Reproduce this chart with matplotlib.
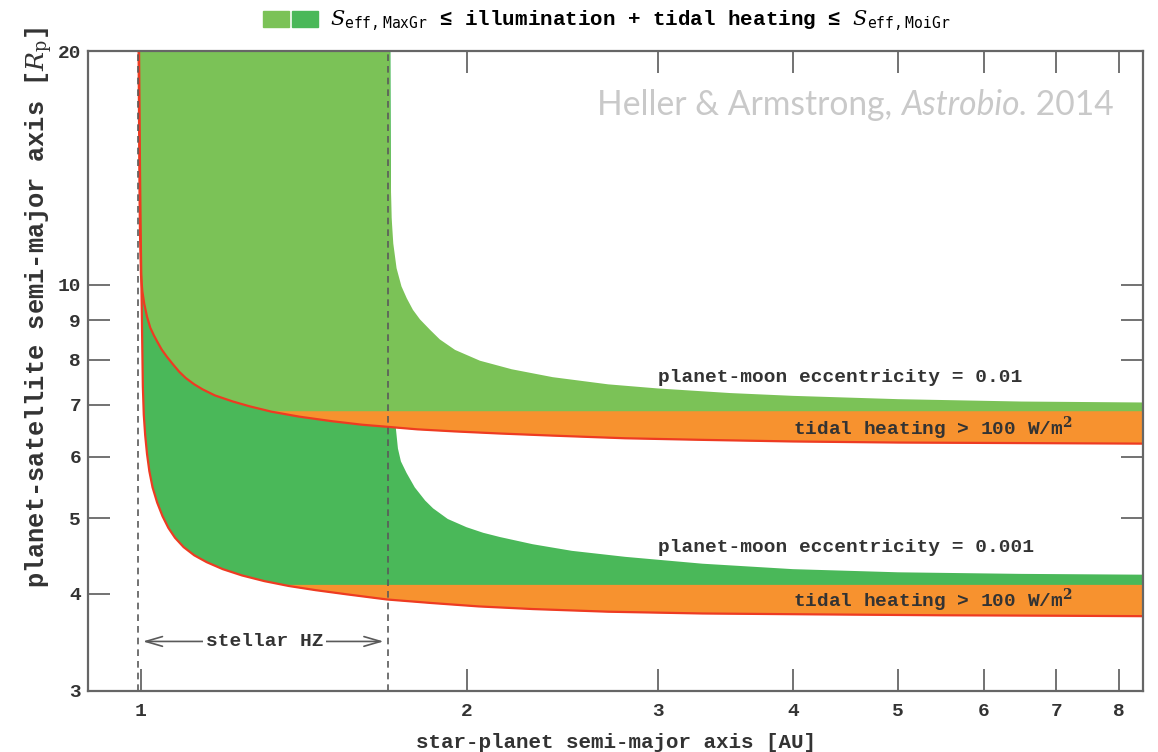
import matplotlib
matplotlib.use("Agg")
import matplotlib.pyplot as plt
from matplotlib.patches import Patch
from matplotlib.legend_handler import HandlerTuple
import numpy as np

# star-planet semi-major axis [AU] / planet-satellite semi-major axis [R_p]
# e = 0.01: inner (moist greenhouse) limit, red line
a_moi_e01 = [0.995, 0.996, 0.997, 0.998, 1.000, 1.003, 1.007, 1.013, 1.020, 1.028,
             1.035, 1.045, 1.057, 1.070, 1.085, 1.100, 1.120, 1.140, 1.170, 1.216,
             1.260, 1.320, 1.400, 1.500, 1.600, 1.687, 1.800, 1.950, 2.145, 2.400,
             2.800, 3.300, 4.000, 5.000, 6.500, 8.420]
r_moi_e01 = [20.0, 16.0, 13.0, 11.6, 10.3, 9.80, 9.45, 9.09, 8.80, 8.60,
             8.45, 8.25, 8.07, 7.90, 7.72, 7.58, 7.44, 7.33, 7.20, 7.07,
             6.97, 6.86, 6.76, 6.67, 6.60, 6.56, 6.51, 6.47, 6.43, 6.39,
             6.34, 6.31, 6.28, 6.26, 6.25, 6.24]
# e = 0.01: outer (maximum greenhouse) limit
a_max_e01 = [1.697, 1.699, 1.701, 1.704, 1.710, 1.722, 1.740, 1.760, 1.783, 1.810,
             1.850, 1.888, 1.950, 2.056, 2.200, 2.400, 2.700, 3.000, 3.500, 4.000,
             5.000, 6.500, 8.420]
r_max_e01 = [20.0, 15.5, 13.5, 12.2, 11.3, 10.5, 9.95, 9.60, 9.28, 9.02,
             8.74, 8.50, 8.24, 7.98, 7.78, 7.60, 7.44, 7.35, 7.25, 7.19,
             7.12, 7.07, 7.05]

# e = 0.001
a_moi_e001 = [0.996, 0.998, 1.000, 1.002, 1.004, 1.006, 1.009, 1.013, 1.018, 1.025,
              1.035, 1.047, 1.060, 1.075, 1.095, 1.120, 1.150, 1.190, 1.240, 1.300,
              1.370, 1.450, 1.550, 1.687, 1.850, 2.050, 2.300, 2.700, 3.300, 4.200,
              5.500, 7.000, 8.420]
r_moi_e001 = [20.0, 14.0, 11.0, 9.00, 7.40, 6.80, 6.40, 6.05, 5.75, 5.48,
              5.24, 5.03, 4.86, 4.72, 4.59, 4.48, 4.39, 4.30, 4.22, 4.15,
              4.09, 4.04, 3.99, 3.93, 3.89, 3.85, 3.82, 3.79, 3.77, 3.76,
              3.75, 3.745, 3.74]
a_max_e001 = [1.700, 1.703, 1.708, 1.714, 1.720, 1.727, 1.738, 1.759, 1.790, 1.830,
              1.861, 1.920, 1.998, 2.070, 2.145, 2.300, 2.500, 2.800, 3.300, 4.000,
              5.000, 6.500, 8.420]
r_max_e001 = [20.0, 10.0, 8.00, 7.00, 6.50, 6.15, 5.92, 5.72, 5.48, 5.27,
              5.15, 4.99, 4.87, 4.79, 4.73, 4.63, 4.54, 4.46, 4.37, 4.30,
              4.26, 4.24, 4.23]

# tidal heating = 100 W/m^2
tidal_e01 = 6.88
tidal_e001 = 4.11

# stellar habitable zone
hz_inner, hz_outer = 0.994, 1.69

xticks = [1, 2, 3, 4, 5, 6, 7, 8]
yticks = [3, 4, 5, 6, 7, 8, 9, 10, 20]

LIGHT = "#7bc257"
DARK = "#4ab859"
ORANGE = "#f7922f"
RED = "#ee3b22"
GREY = "#5a5a5a"
MONO = ["Liberation Mono", "DejaVu Sans Mono"]

plt.rcParams["mathtext.fontset"] = "dejavuserif"

fig = plt.figure(figsize=(11.58, 7.52), dpi=100)
ax = fig.add_axes([88 / 1158, 1 - 690.5 / 752, (1143 - 88) / 1158, (690.5 - 51) / 752])
ax.set_xscale("log")
ax.set_yscale("log")
ax.set_xlim(0.8935, 8.42)
ax.set_ylim(3, 20)

# habitable regions: polygon between inner limit and outer limit
ax.fill(a_moi_e001 + a_max_e001[::-1], r_moi_e001 + r_max_e001[::-1],
        color=DARK, lw=0, zorder=1)
ax.fill(a_moi_e01 + a_max_e01[::-1], r_moi_e01 + r_max_e01[::-1],
        color=LIGHT, lw=0, zorder=2)

# tidal heating > 100 W/m^2 bands
for a, r, lvl in ((a_moi_e01, r_moi_e01, tidal_e01), (a_moi_e001, r_moi_e001, tidal_e001)):
    a = np.array(a)
    r = np.array(r)
    ax.fill_between(a, r, lvl, where=r < lvl, interpolate=True,
                    color=ORANGE, lw=0, zorder=3)
    ax.plot(a, r, color=RED, lw=1.6, zorder=4)

for x in (hz_inner, hz_outer):
    ax.axvline(x, color=GREY, lw=1.2, ls=(0, (4, 3)), zorder=5)

arrow = dict(arrowstyle="->,head_length=1.2,head_width=0.35", color=GREY, lw=1.2)
ax.annotate("", xy=(0.998, 3.47), xytext=(1.30, 3.47), arrowprops=arrow, zorder=6)
ax.annotate("", xy=(1.685, 3.47), xytext=(1.30, 3.47), arrowprops=arrow, zorder=6)
ax.text(1.30, 3.47, "stellar HZ", family=MONO, weight="bold", fontsize=14,
        ha="center", va="center", color="#333333", zorder=7,
        bbox=dict(facecolor="white", edgecolor="none", pad=2))

lab = dict(family=MONO, weight="bold", fontsize=14, color="#333333", va="center", zorder=7)
ax.text(3.0, 7.60, "planet-moon eccentricity = 0.01", **lab)
ax.text(3.0, 4.58, "planet-moon eccentricity = 0.001", **lab)
ax.text(4.0, 6.53, r"tidal heating > 100 W/m$^{\mathbf{2}}$", **lab)
ax.text(4.0, 3.92, r"tidal heating > 100 W/m$^{\mathbf{2}}$", **lab)

ax.set_xticks(xticks)
ax.set_xticklabels([str(t) for t in xticks])
ax.set_yticks(yticks)
ax.set_yticklabels([str(t) for t in yticks])
ax.minorticks_off()
ax.tick_params(which="major", direction="in", length=15.5, width=1.2, color=GREY,
               top=True, right=True, labelsize=14)
ax.tick_params(axis="x", pad=9)
ax.tick_params(axis="y", pad=5)
for lbl in ax.get_xticklabels() + ax.get_yticklabels():
    lbl.set_family(MONO)
    lbl.set_weight("bold")
    lbl.set_color("#333333")
for s in ax.spines.values():
    s.set_color("#666666")
    s.set_linewidth(1.6)
    s.set_zorder(8)

ax.set_xlabel("star-planet semi-major axis [AU]", family=MONO, weight="bold",
              fontsize=15, color="#333333", labelpad=9)
ax.set_ylabel(r"planet-satellite semi-major axis [$R_\mathrm{p}$]", family=MONO,
              weight="bold", fontsize=18.3, color="#333333")
ax.yaxis.set_label_coords(-33 / 1055, 0.60)

h = (Patch(color=LIGHT), Patch(color=DARK))
fig.legend([h], [r"$S_{\mathtt{eff,MaxGr}}$ ≤ illumination + tidal heating ≤ $S_{\mathtt{eff,MoiGr}}$"],
           handler_map={tuple: HandlerTuple(ndivide=None, pad=0.15)},
           loc="upper center", bbox_to_anchor=(0.5237, 1.013), frameon=False,
           handlelength=2.65, handleheight=0.8, handletextpad=0.55,
           prop=dict(family=MONO, weight="bold", size=15))

# credit line
base_y = 1 - 115 / 752
wm = dict(family="Lato", fontsize=24.2, color="#c9c9c9", va="baseline")
t1 = fig.text(597 / 1158, base_y, "Heller & Armstrong, ", **wm)
t2 = fig.text(0, 0, "Astrobio.", style="italic", **wm)
t3 = fig.text(0, 0, " 2014", **wm)
fig.canvas.draw()
r = fig.canvas.get_renderer()
inv = fig.transFigure.inverted()
b1 = t1.get_window_extent(r)
t2.set_position((inv.transform((b1.x1, 0))[0], base_y))
b2 = t2.get_window_extent(r)
t3.set_position((inv.transform((b2.x1, 0))[0], base_y))

fig.savefig("out.png", dpi=100)
